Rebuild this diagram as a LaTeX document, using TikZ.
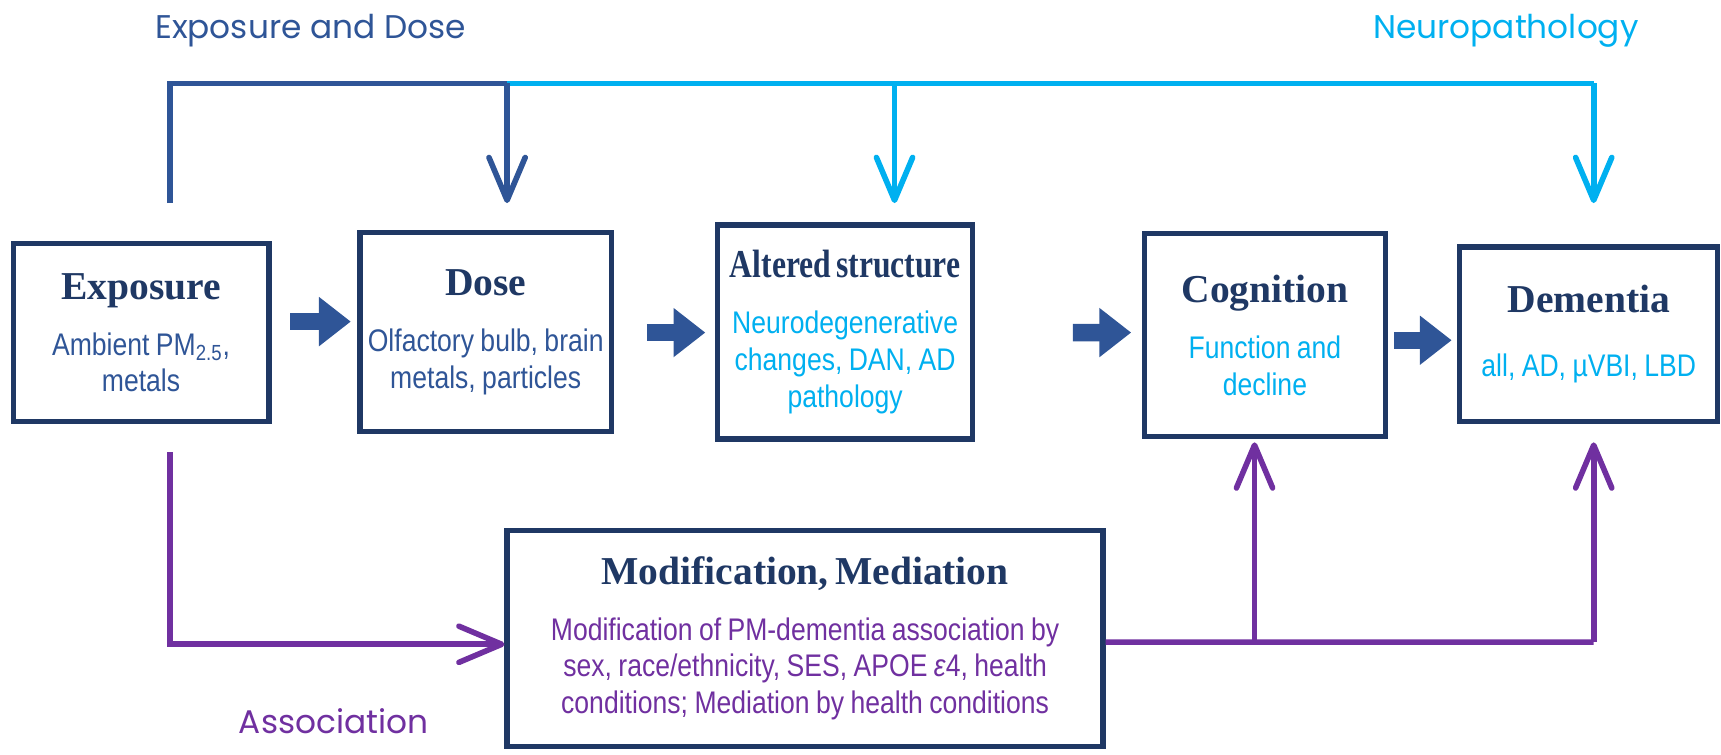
\documentclass[tikz,border=0pt]{standalone}
\usepackage{fontspec}
\setmainfont{Liberation Serif}
\newfontfamily\narrowf[FakeStretch=0.85]{Liberation Sans}
\newfontfamily\geof{Poppins}
\usetikzlibrary{arrows.meta,calc}
\definecolor{navy}{HTML}{1F3864}
\definecolor{midblue}{HTML}{2F5597}
\definecolor{skyc}{HTML}{00B0F0}
\definecolor{purp}{HTML}{7030A0}
\newcommand\bxttl[2][1]{{\fontsize{20.5}{22}\selectfont\bfseries\color{navy}\scalebox{#1}[1]{#2}\par}\vspace{10pt}}
\newcommand\bxbody[2]{{\narrowf\fontsize{16.2}{19}\selectfont\color{#1}#2\par}}
\begin{document}
\begin{tikzpicture}[x=0.02cm,y=-0.02cm,
  box/.style={draw=navy,line width=2.7pt,fill=white,inner sep=0pt,align=center},
  lbl/.style={font=\geof\fontsize{17}{20}\selectfont,inner sep=0pt},
  conn/.style={line width=2.9pt,line join=miter},
  barb/.style={-{Straight Barb[length=0.78cm,width=0.66cm,round]}},
  blk/.style={draw=midblue,line width=9pt,-{Triangle[width=0.86cm,length=0.58cm]}}]
\useasboundingbox (0,0) rectangle (1568,687);
% boxes
\node[box,minimum width=233*0.02cm,minimum height=162*0.02cm,text width=225*0.02cm] (expo) at (128.5,303)
  {\bxttl{Exposure}\bxbody{midblue}{Ambient PM\textsubscript{2.5},\\metals}};
\node[box,minimum width=229*0.02cm,minimum height=181*0.02cm,text width=228*0.02cm] (dose) at (442.5,302.5)
  {\bxttl{Dose}\bxbody{midblue}{Olfactory bulb, brain\\metals, particles}};
\node[box,minimum width=232*0.02cm,minimum height=195*0.02cm,text width=228*0.02cm] (alt) at (770,302.5)
  {\bxttl[0.8]{Altered structure}\bxbody{skyc}{Neurodegenerative\\changes, DAN, AD\\pathology}};
\node[box,minimum width=219*0.02cm,minimum height=185*0.02cm,text width=210*0.02cm] (cog) at (1152.5,305.5)
  {\bxttl{Cognition}\bxbody{skyc}{Function and\\decline}};
\node[box,minimum width=235*0.02cm,minimum height=159*0.02cm,text width=228*0.02cm] (dem) at (1447.5,304.5)
  {\bxttl{Dementia}\vspace{4pt}\bxbody{skyc}{all, AD, µVBI, LBD}};
\node[box,minimum width=543*0.02cm,minimum height=197*0.02cm,text width=535*0.02cm] (mod) at (733.5,581.5)
  {\bxttl{Modification, Mediation}\bxbody{purp}{Modification of PM-dementia association by\\sex, race/ethnicity, SES, APOE \textit{ε}4, health\\conditions; Mediation by health conditions}};
% labels
\node[lbl,text=midblue] (lexp) at (283,28) {Exposure and Dose};
\node[lbl,text=skyc] (lneu) at (1372,28) {Neuropathology};
\node[lbl,text=purp] (lass) at (304,657) {Association};
% block arrows
\draw[blk] ([shift={(17,-10)}]expo.east) -- ([shift={(-6,-9.5)}]dose.west);
\draw[blk] ([shift={(30,0.5)}]dose.east) -- ([shift={(-9,0.5)}]alt.west);
\draw[blk] ([shift={(89,0.5)}]alt.east) -- ([shift={(-10,-2.5)}]cog.west);
\draw[blk] ([shift={(6,4.5)}]cog.east) -- ([shift={(-5,5.5)}]dem.west);
% top connectors
\coordinate (tstart) at (155,185);
\coordinate (tsplit) at (462,76);
\coordinate (tright) at (1452,76);
\coordinate (tmid) at (815,76);
\draw[conn,skyc] (tsplit) -- (tright);
\draw[conn,skyc,barb] (tright) -- (tright |- 0,185);
\draw[conn,skyc,barb] (tmid) -- (tmid |- 0,185);
\draw[conn,midblue] (tstart) |- (tsplit);
\draw[conn,midblue,barb] (tsplit) -- (tsplit |- 0,185);
% bottom connectors
\coordinate (bstart) at (155,412);
\coordinate (bj1) at (1143,585);
\coordinate (bj2) at (1452,585);
\draw[conn,purp,barb] (bstart) |- ([shift={(0,5.5)}]mod.west);
\draw[conn,purp] ([shift={(0,3.5)}]mod.east) -- (bj2);
\draw[conn,purp,barb] (bj1) -- (bj1 |- 0,403);
\draw[conn,purp,barb] (bj2) -- (bj2 |- 0,403);
\end{tikzpicture}
\end{document}
